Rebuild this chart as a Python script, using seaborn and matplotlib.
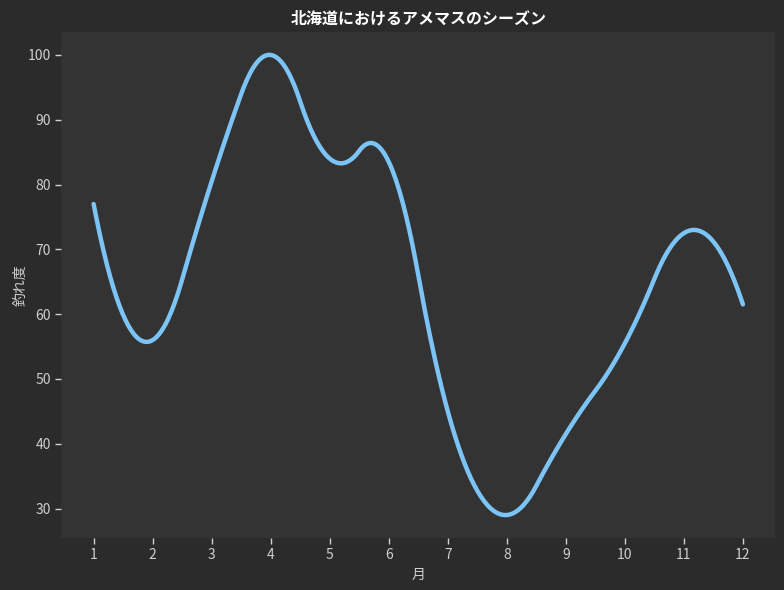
import numpy as np
import pandas as pd
import matplotlib
matplotlib.use("Agg")
import matplotlib.pyplot as plt
import seaborn as sns

# monthly catch index
months = [1, 2, 3, 4, 5, 6, 7, 8, 9, 10, 11, 12]
catch_rate = [77, 56, 80.5, 100, 84, 83.5, 45, 29, 41.5, 55.5, 72.5, 61.5]

title = "北海道におけるアメマスのシーズン"
xlabel = "月"
ylabel = "釣れ度"

BG = "#2b2b2b"
AX_BG = "#333333"
LINE = "#7cc4f5"
TXT = "#cfcfcf"


def bspline_basis(t, k, xs):
    """B-spline basis matrix (Cox-de Boor)."""
    xs = np.asarray(xs, float)
    B = np.zeros((len(xs), len(t) - 1))
    for i in range(len(t) - 1):
        if t[i] < t[i + 1]:
            B[:, i] = (xs >= t[i]) & (xs < t[i + 1])
    last = max(i for i in range(len(t) - 1) if t[i] < t[i + 1])
    B[xs >= t[-1], last] = 1
    for d in range(1, k + 1):
        Bn = np.zeros((len(xs), len(t) - 1 - d))
        for i in range(len(t) - 1 - d):
            left = (xs - t[i]) / (t[i + d] - t[i]) * B[:, i] if t[i + d] > t[i] else 0
            right = (t[i + d + 1] - xs) / (t[i + d + 1] - t[i + 1]) * B[:, i + 1] if t[i + d + 1] > t[i + 1] else 0
            Bn[:, i] = left + right
        B = Bn
    return B


def smooth_curve(x, y, n=400):
    """Quadratic interpolating spline through the points (knots at midpoints)."""
    x = np.asarray(x, float)
    mid = (x[1:] + x[:-1]) / 2
    t = np.r_[(x[0],) * 3, mid[1:-1], (x[-1],) * 3]
    coef = np.linalg.solve(bspline_basis(t, 2, x), np.asarray(y, float))
    xs = np.linspace(x[0], x[-1], n)
    return xs, bspline_basis(t, 2, xs) @ coef


sns.set_theme(style="dark")
plt.rcParams["font.family"] = ["Noto Sans CJK JP", "DejaVu Sans"]

xs, ys = smooth_curve(months, catch_rate)
df = pd.DataFrame({"month": xs, "value": ys})

fig = plt.figure(figsize=(7.84, 5.9), dpi=100, facecolor=BG)
ax = fig.add_axes([0.078, 0.088, 0.911, 0.858])
ax.set_facecolor(AX_BG)

sns.lineplot(data=df, x="month", y="value", ax=ax, color=LINE, linewidth=3.2, sort=False)

ax.set_xticks(months)
ax.set_yticks([30, 40, 50, 60, 70, 80, 90, 100])
ax.tick_params(colors=TXT, labelsize=10, length=4, width=1, direction="out",
               bottom=True, left=True)
for s in ax.spines.values():
    s.set_visible(False)
ax.grid(False)

ax.set_title(title, color="white", fontsize=11.5, fontweight="bold", pad=6)
ax.set_xlabel(xlabel, color=TXT, fontsize=10)
ax.set_ylabel(ylabel, color=TXT, fontsize=10, labelpad=0)

fig.savefig("out.png", dpi=100, facecolor=BG)
